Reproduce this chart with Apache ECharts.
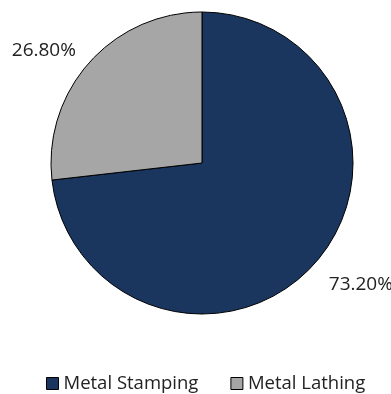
<!DOCTYPE html>
<html>
<head>
<meta charset="utf-8">
<script src="https://cdn.jsdelivr.net/npm/echarts@6/dist/echarts.min.js"></script>
<style>
  html, body { margin: 0; padding: 0; background: #fff; }
  #main { width: 391px; height: 394px; }
</style>
</head>
<body>
<div id="main"></div>
<script>
  // data
  var names = ['Metal Stamping', 'Metal Lathing'];
  var shares = [73.2, 26.8];
  var colors = ['#1a365f', '#a6a6a6'];

  var myChart = echarts.init(document.getElementById('main'));

  var pieData = names.map(function (n, i) {
    return { name: n, value: shares[i], itemStyle: { color: colors[i] } };
  });
  // the big slice's label sits a bit lower in the picture
  pieData[0].labelLine = { show: false, length: 31, length2: 0 };
  pieData[0].label = { distanceToLabelLine: -9 };

  var option = {
    animation: false,
    textStyle: { fontFamily: 'Open Sans' },
    legend: {
      data: names,
      left: 41,
      top: 369,
      icon: 'rect',
      itemWidth: 12,
      itemHeight: 12,
      itemGap: 32,
      itemStyle: { borderColor: '#000', borderWidth: 1 },
      textStyle: { fontSize: 18.5, color: '#222', fontFamily: 'Open Sans' }
    },
    series: [
      {
        type: 'pie',
        center: [202, 163],
        radius: 151,
        startAngle: 90,
        clockwise: true,
        avoidLabelOverlap: false,
        data: pieData,
        itemStyle: { borderColor: '#000', borderWidth: 1 },
        label: {
          show: true,
          position: 'outside',
          formatter: function (p) { return p.value.toFixed(2) + '%'; },
          fontSize: 19,
          color: '#222',
          fontFamily: 'Open Sans',
          distanceToLabelLine: 0
        },
        labelLine: { show: false, length: 18, length2: 0 },
        emphasis: { disabled: true }
      }
    ]
  };

  myChart.setOption(option);
</script>
</body>
</html>
